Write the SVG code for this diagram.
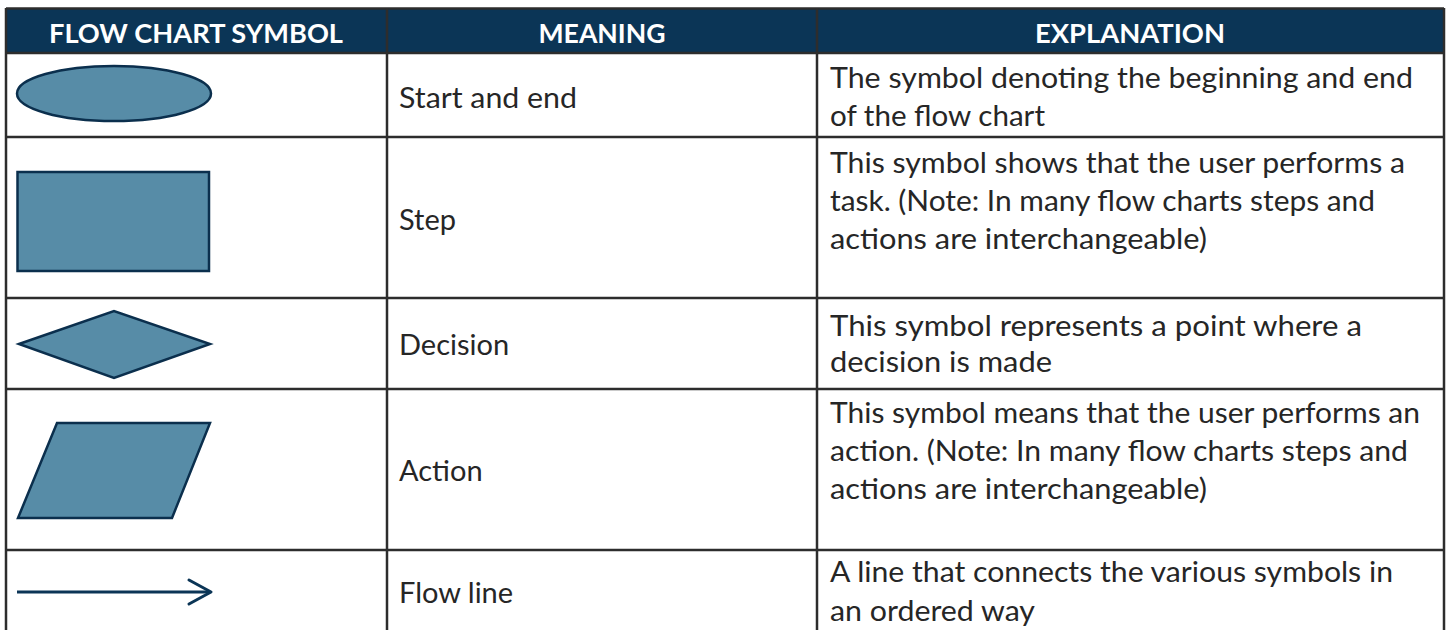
<svg xmlns="http://www.w3.org/2000/svg" width="1447" height="630" viewBox="0 0 1447 630">
<style>
.hdr{font-family:Lato,"Liberation Sans",sans-serif;font-weight:bold;font-size:27px;fill:#ffffff;text-anchor:middle}
.txt{font-family:Lato,"Liberation Sans",sans-serif;font-size:29px;fill:#262626}
.shape{fill:#578ca7;stroke:#0b2f4d;stroke-width:2.5}
.grid{stroke:#2d2d2d;stroke-width:2.5;fill:none}
</style>
<rect x="0" y="0" width="1447" height="630" fill="#ffffff"/>
<g id="table">
<rect x="6" y="8.5" width="1438" height="44.5" fill="#0b3556"/>
<g class="grid">
<line x1="6" y1="8.5" x2="1444" y2="8.5"/>
<line x1="6" y1="53" x2="1444" y2="53"/>
<line x1="6" y1="137" x2="1444" y2="137"/>
<line x1="6" y1="298" x2="1444" y2="298"/>
<line x1="6" y1="389" x2="1444" y2="389"/>
<line x1="6" y1="550" x2="1444" y2="550"/>
<line x1="6" y1="8" x2="6" y2="630"/>
<line x1="387" y1="8" x2="387" y2="630"/>
<line x1="817" y1="8" x2="817" y2="630"/>
<line x1="1444" y1="8" x2="1444" y2="630"/>
</g>
<text class="hdr" x="196" y="43" textLength="294" lengthAdjust="spacingAndGlyphs">FLOW CHART SYMBOL</text>
<text class="hdr" x="602" y="43" textLength="127" lengthAdjust="spacingAndGlyphs">MEANING</text>
<text class="hdr" x="1130" y="43" textLength="190" lengthAdjust="spacingAndGlyphs">EXPLANATION</text>
</g>
<g id="row-start">
<ellipse class="shape" cx="114" cy="93.5" rx="97" ry="27.5"/>
<text class="txt" x="399" y="108" textLength="178" lengthAdjust="spacingAndGlyphs">Start and end</text>
<text class="txt" x="830" y="88" textLength="583" lengthAdjust="spacingAndGlyphs">The symbol denoting the beginning and end</text>
<text class="txt" x="830" y="126" textLength="215" lengthAdjust="spacingAndGlyphs">of the flow chart</text>
</g>
<g id="row-step">
<rect class="shape" x="17.5" y="172" width="191.5" height="99"/>
<text class="txt" x="399" y="230">Step</text>
<text class="txt" x="830" y="173" textLength="575" lengthAdjust="spacingAndGlyphs">This symbol shows that the user performs a</text>
<text class="txt" x="830" y="211" textLength="545" lengthAdjust="spacingAndGlyphs">task. (Note: In many flow charts steps and</text>
<text class="txt" x="830" y="249" textLength="377" lengthAdjust="spacingAndGlyphs">actions are interchangeable)</text>
</g>
<g id="row-decision">
<polygon class="shape" points="19,344 114,311 210,344 114,378"/>
<text class="txt" x="399" y="355">Decision</text>
<text class="txt" x="830" y="336" textLength="532" lengthAdjust="spacingAndGlyphs">This symbol represents a point where a</text>
<text class="txt" x="830" y="372" textLength="222" lengthAdjust="spacingAndGlyphs">decision is made</text>
</g>
<g id="row-action">
<polygon class="shape" points="57,423 210,423 172,518 18,518"/>
<text class="txt" x="399" y="481">Action</text>
<text class="txt" x="830" y="423" textLength="590" lengthAdjust="spacingAndGlyphs">This symbol means that the user performs an</text>
<text class="txt" x="830" y="461" textLength="578" lengthAdjust="spacingAndGlyphs">action. (Note: In many flow charts steps and</text>
<text class="txt" x="830" y="499" textLength="377" lengthAdjust="spacingAndGlyphs">actions are interchangeable)</text>
</g>
<g id="connectors">
<line x1="17" y1="592" x2="210" y2="592" stroke="#0b3556" stroke-width="3"/>
<polyline points="189,580 211,592 189,604" fill="none" stroke="#0b3556" stroke-width="3" stroke-linecap="round" stroke-linejoin="round"/>
</g>
<g id="row-flow">
<text class="txt" x="399" y="603">Flow line</text>
<text class="txt" x="830" y="582" textLength="563" lengthAdjust="spacingAndGlyphs">A line that connects the various symbols in</text>
<text class="txt" x="830" y="621" textLength="205" lengthAdjust="spacingAndGlyphs">an ordered way</text>
</g>
</svg>
